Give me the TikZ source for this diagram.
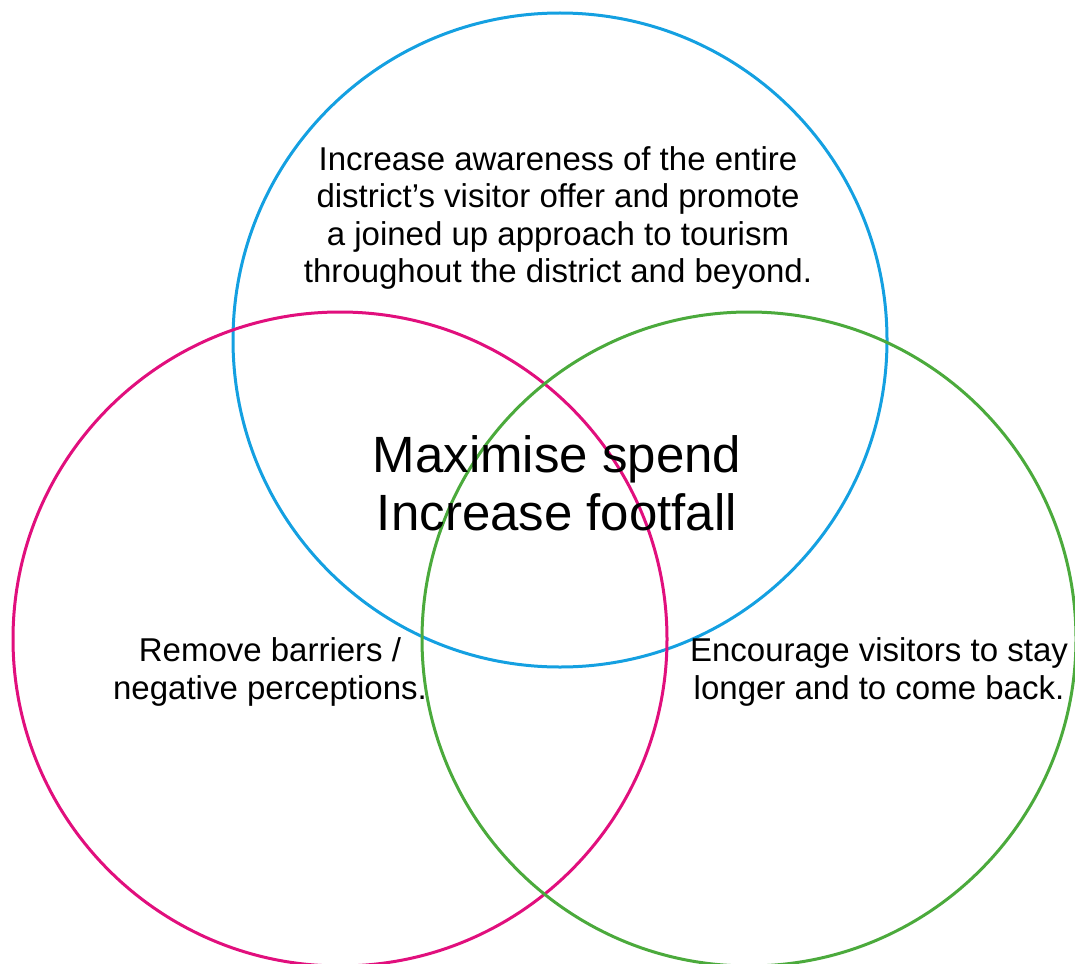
\documentclass[tikz,border=0pt]{standalone}
\usepackage{fontspec}
\setmainfont{Liberation Sans}
\definecolor{vennblue}{RGB}{20,160,225}
\definecolor{vennpink}{RGB}{225,15,125}
\definecolor{venngreen}{RGB}{75,170,60}
\usetikzlibrary{positioning}

\begin{document}
\begin{tikzpicture}[x=1pt, y=-1pt,
	every node/.append style={inner sep=0pt},
	ring/.style={shape=circle, draw, line width=3pt, minimum size=654pt},
	goal/.style={align=center, font=\fontsize{33}{37.5}\selectfont},
	aim/.style={align=center, font=\fontsize{51}{58}\selectfont}]

	\useasboundingbox (0, 0) rectangle (1075, 963);

	\node[ring, draw = vennblue] at (560, 340) (A){};
	\node[ring, draw = vennpink] at (340, 639) (B){};
	\node[ring, draw = venngreen] at (749, 639) (C){};

	\node[goal] at (558, 218) (AT){Increase awareness of the entire\\district’s visitor offer and promote\\a joined up approach to tourism\\throughout the district and beyond.};
	\node[goal] at (270, 672) (BT){Remove barriers /\\negative perceptions.};
	\node[goal] at (879, 672) (CT){Encourage visitors to stay\\longer and to come back.};
	\node[aim] at (557, 483) (T){Maximise spend\\Increase footfall};
	\end{tikzpicture}
\end{document}
